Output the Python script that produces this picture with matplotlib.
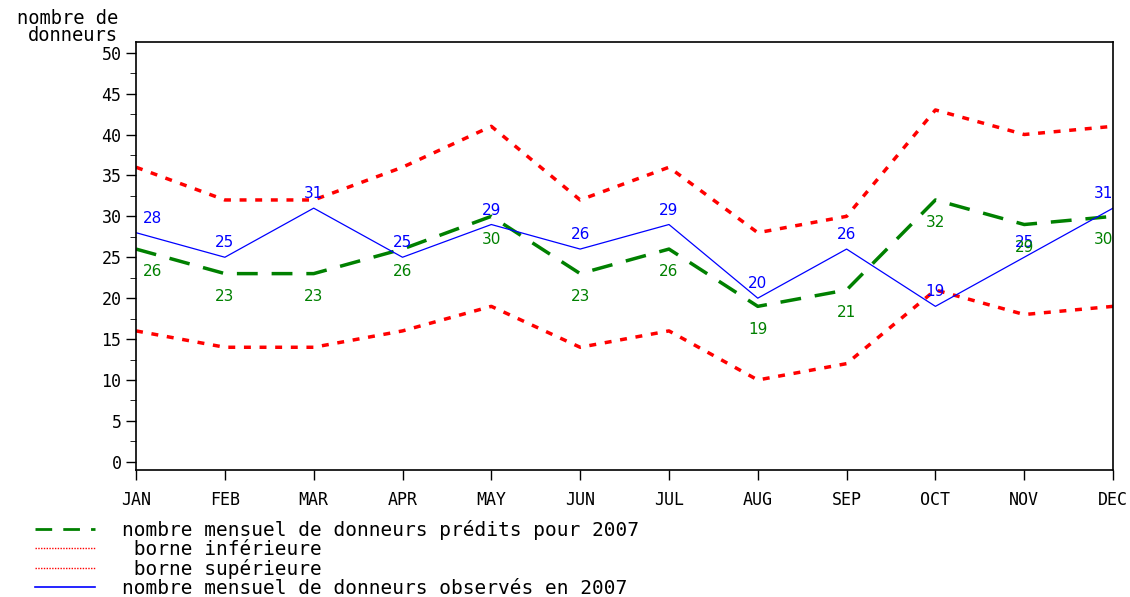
import numpy as np
import matplotlib
matplotlib.use("Agg")
import matplotlib.pyplot as plt
from matplotlib.lines import Line2D

plt.rcParams['font.family'] = ['DejaVu Sans Mono']

mois = ["JAN", "FEB", "MAR", "APR", "MAY", "JUN", "JUL", "AUG", "SEP", "OCT", "NOV", "DEC"]
predits = [26, 23, 23, 26, 30, 23, 26, 19, 21, 32, 29, 30]
observes = [28, 25, 31, 25, 29, 26, 29, 20, 26, 19, 25, 31]
borne_sup = [36, 32, 32, 36, 41, 32, 36, 28, 30, 43, 40, 41]
borne_inf = [16, 14, 14, 16, 19, 14, 16, 10, 12, 21, 18, 19]

x = np.arange(len(mois))

fig = plt.figure(figsize=(11.3, 5.97), dpi=100)
ax = fig.add_axes([0.1204, 0.2127, 0.8646, 0.7169])

ax.plot(x, borne_sup, color="red", lw=2.5, linestyle=(0, (2, 2.5)))
ax.plot(x, borne_inf, color="red", lw=2.5, linestyle=(0, (2, 2.5)))
ax.plot(x, predits, color="green", lw=2.5, linestyle=(0, (6, 4)))
ax.plot(x, observes, color="blue", lw=0.9)

# etiquettes des valeurs
def align(xi):
    if xi == 0:
        return "left"
    if xi == len(mois) - 1:
        return "right"
    return "center"

for xi, v in zip(x, observes):
    ax.annotate(str(v), (xi, v), xytext=(5 if xi == 0 else 0, 5), textcoords="offset points",
                ha=align(xi), va="bottom", color="blue", fontsize=11, family="DejaVu Sans")
for xi, v in zip(x, predits):
    ax.annotate(str(v), (xi, v), xytext=(5 if xi == 0 else 0, -11), textcoords="offset points",
                ha=align(xi), va="top", color="green", fontsize=11, family="DejaVu Sans")

ax.set_xlim(0, 11)
ax.set_ylim(-1, 51.3)
ax.set_yticks(np.arange(0, 51, 5))
ax.set_yticks(np.arange(0, 51, 2.5), minor=True)
ax.set_xticks(x)
ax.set_xticklabels(mois)
ax.tick_params(axis="both", direction="out", length=7, width=1, labelsize=12)
ax.tick_params(axis="x", pad=8)
ax.tick_params(axis="y", which="minor", length=4)
for s in ax.spines.values():
    s.set_linewidth(1.2)

fig.text(118 / 1130, 1 - 45 / 597, "nombre de\ndonneurs", fontsize=13.5, ha="right", va="bottom",
         multialignment="right", linespacing=0.9)

handles = [
    Line2D([], [], color="green", lw=2, linestyle=(0, (6, 4))),
    Line2D([], [], color="red", lw=1, linestyle=(0, (1, 1))),
    Line2D([], [], color="red", lw=1, linestyle=(0, (1, 1))),
    Line2D([], [], color="blue", lw=1.2),
]
labels = [
    "nombre mensuel de donneurs prédits pour 2007",
    " borne inférieure",
    " borne supérieure",
    "nombre mensuel de donneurs observés en 2007",
]
fig.legend(handles, labels, loc="upper left", bbox_to_anchor=(35 / 1130, 1 - 520 / 597),
           frameon=False, fontsize=14, handlelength=3.1, handletextpad=1.4,
           labelspacing=0.0, borderaxespad=0, borderpad=0)

fig.savefig("out.png", dpi=100)
